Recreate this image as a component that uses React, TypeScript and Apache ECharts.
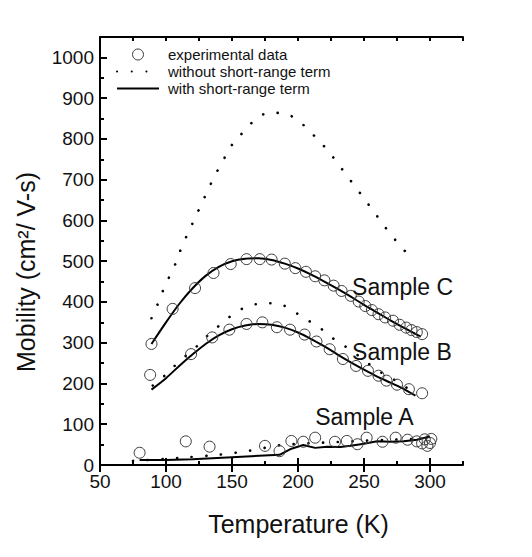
import React, { useEffect, useRef } from "react";
import * as echarts from "echarts";

// Temperature (K) / mobility (cm²/V-s) readings for the three samples
const sampleCExpT = [89, 105, 122, 136, 149, 161, 171, 180, 190, 198, 206, 213, 220, 227, 233, 240, 246, 251, 256, 261, 266, 272, 277, 282, 286, 290, 294];
const sampleCExpMu = [297, 383, 434, 471, 493, 505, 505, 504, 494, 483, 474, 463, 453, 440, 427, 415, 401, 390, 380, 370, 362, 354, 344, 337, 331, 326, 321];
const sampleCWithT = [89, 100, 110, 120, 130, 140, 150, 160, 170, 180, 190, 200, 210, 220, 230, 240, 250, 260, 270, 280, 293];
const sampleCWithMu = [297, 350, 395, 433, 464, 486, 500, 506, 507, 503, 494, 482, 467, 450, 432, 413, 393, 374, 355, 337, 315];
const sampleCWithoutT = [89, 94, 98, 103, 108, 112, 117, 122, 127, 132, 137, 143, 149, 158, 167, 178, 189, 200, 210, 220, 229, 237, 245, 253, 261, 269, 278, 288];
const sampleCWithoutMu = [360, 397, 430, 465, 500, 536, 571, 606, 641, 676, 710, 745, 781, 815, 845, 864, 863, 845, 815, 781, 745, 710, 676, 641, 606, 571, 536, 500];

const sampleBExpT = [88, 119, 135, 148, 161, 173, 184, 194, 205, 214, 224, 234, 244, 253, 261, 267, 275, 284, 294];
const sampleBExpMu = [221, 272, 313, 332, 346, 350, 338, 332, 320, 303, 284, 260, 243, 231, 219, 207, 197, 186, 176];
const sampleBWithT = [89, 100, 110, 120, 130, 140, 150, 160, 170, 180, 190, 200, 210, 220, 230, 240, 250, 260, 270, 280, 289];
const sampleBWithMu = [185, 213, 243, 271, 297, 318, 333, 342, 346, 344, 337, 325, 309, 291, 271, 252, 234, 217, 202, 187, 170];
const sampleBWithoutT = [90, 100, 110, 122, 132, 143, 153, 164, 175, 186, 196, 207, 218, 228, 239, 249, 260, 271, 281, 292];
const sampleBWithoutMu = [195, 222, 254, 287, 319, 349, 375, 391, 397, 395, 378, 356, 333, 307, 284, 260, 233, 213, 192, 176];

const sampleAExpT = [80, 115, 133, 175, 186, 195, 204, 213, 228, 237, 245, 252, 264, 274, 283, 290, 294, 296, 298, 300, 301];
const sampleAExpMu = [30, 58, 45, 47, 34, 59, 57, 67, 57, 59, 51, 67, 57, 67, 62, 58, 53, 63, 47, 54, 64];
const sampleAWithT = [80, 100, 120, 150, 186, 195, 204, 213, 222, 232, 240, 250, 260, 270, 280, 290, 300];
const sampleAWithMu = [12, 12, 14, 19, 25, 40, 49, 42, 45, 44, 47, 52, 58, 57, 58, 62, 70];
const sampleAWithoutT = [75, 100, 125, 145, 165, 185, 200, 220, 240, 260, 280, 300];
const sampleAWithoutMu = [10, 15, 21, 27, 36, 48, 52, 55, 58, 61, 63, 66];

const seriesNames = ["experimental data", "without short-range term", "with short-range term"];
const sampleNames = ["Sample C", "Sample B", "Sample A"];

const xMajorTicks = [50, 100, 150, 200, 250, 300];
const yMajorTicks = [0, 100, 200, 300, 400, 500, 600, 700, 800, 900, 1000];

// where each sample's caption sits, in axis units
const captionAnchors: [number, number][] = [
  [241, 437],
  [241, 278],
  [213, 118],
];

const FONT = "'Liberation Sans', Arial, sans-serif";
const INK = "#111";
const CIRCLE = "#3a3a3a";

const zip = (xs: number[], ys: number[]) => xs.map((x, i) => [x, ys[i]]);

const expSeries = (x: number[], y: number[]) => ({
  name: seriesNames[0],
  type: "scatter",
  data: zip(x, y),
  symbol: "circle",
  symbolSize: 11,
  itemStyle: { color: "rgba(0,0,0,0)", borderColor: CIRCLE, borderWidth: 1, opacity: 1 },
  z: 3,
});

const withoutSeries = (x: number[], y: number[]) => ({
  name: seriesNames[1],
  type: "line",
  data: zip(x, y),
  symbol: "none",
  smooth: 0.35,
  lineStyle: { color: "#000", width: 2.6, type: [0.1, 14.6], cap: "round" },
  itemStyle: { color: "#000" },
  z: 2,
});

const withSeries = (x: number[], y: number[], smooth: number | boolean) => ({
  name: seriesNames[2],
  type: "line",
  data: zip(x, y),
  symbol: "none",
  smooth,
  lineStyle: { color: "#000", width: 2 },
  itemStyle: { color: "#000" },
  z: 2,
});

const axisLine = { show: true, onZero: false, lineStyle: { color: "#000", width: 2 } };
const hiddenLegendMark = { color: "rgba(0,0,0,0)", borderWidth: 0, opacity: 0 };

export default function App() {
  const ref = useRef<HTMLDivElement>(null);

  useEffect(() => {
    if (!ref.current) return;
    const chart = echarts.init(ref.current, undefined, { renderer: "svg" });

    const xBase = {
      type: "value",
      min: 50,
      max: 325,
      splitLine: { show: false },
    };
    const yBase = {
      type: "value",
      min: 0,
      max: 1050,
      splitLine: { show: false },
    };

    chart.setOption({
      animation: false,
      backgroundColor: "#fff",
      textStyle: { fontFamily: FONT },
      grid: { left: 100, right: 69, top: 37, bottom: 92, containLabel: false },
      legend: {
        data: [
          { name: seriesNames[0], itemStyle: { color: "rgba(0,0,0,0)", borderColor: CIRCLE, borderWidth: 1, opacity: 1 } },
          { name: seriesNames[1], itemStyle: hiddenLegendMark },
          { name: seriesNames[2], itemStyle: hiddenLegendMark },
        ],
        orient: "vertical",
        left: 111,
        top: 42,
        itemWidth: 42,
        itemHeight: 11,
        itemGap: 2,
        selectedMode: false,
        textStyle: { fontFamily: FONT, fontSize: 15, color: INK, padding: [0, 0, 0, 4] },
      },
      xAxis: [
        {
          ...xBase,
          position: "bottom",
          interval: 25,
          axisLine,
          axisTick: { inside: true, length: 4, lineStyle: { color: "#000", width: 2 } },
          axisLabel: { show: false },
          name: "Temperature (K)",
          nameLocation: "middle",
          nameGap: 46,
          nameTextStyle: { fontFamily: FONT, fontSize: 25, color: INK, padding: [0, 0, 0, 34] },
        },
        {
          ...xBase,
          position: "bottom",
          axisLine: { show: false },
          axisTick: { inside: true, length: 7, customValues: xMajorTicks, lineStyle: { color: "#000", width: 2 } },
          axisLabel: { customValues: xMajorTicks, fontFamily: FONT, fontSize: 19, color: INK, margin: 7 },
        },
        {
          ...xBase,
          position: "top",
          interval: 25,
          axisLine,
          axisTick: { inside: true, length: 4, lineStyle: { color: "#000", width: 2 } },
          axisLabel: { show: false },
        },
        {
          ...xBase,
          position: "top",
          axisLine: { show: false },
          axisTick: { inside: true, length: 7, customValues: xMajorTicks, lineStyle: { color: "#000", width: 2 } },
          axisLabel: { show: false },
        },
      ],
      yAxis: [
        {
          ...yBase,
          position: "left",
          interval: 50,
          axisLine,
          axisTick: { inside: true, length: 4, lineStyle: { color: "#000", width: 2 } },
          axisLabel: { show: false },
          name: "Mobility (cm²/ V-s)",
          nameLocation: "middle",
          nameGap: 62,
          nameTextStyle: { fontFamily: FONT, fontSize: 25, color: INK, padding: [0, 42, 0, 0] },
        },
        {
          ...yBase,
          position: "left",
          axisLine: { show: false },
          axisTick: { inside: true, length: 7, customValues: yMajorTicks, lineStyle: { color: "#000", width: 2 } },
          axisLabel: {
            customValues: yMajorTicks,
            formatter: (v: number) => String(v),
            fontFamily: FONT,
            fontSize: 19,
            color: INK,
            margin: 6,
          },
        },
      ],
      series: [
        withoutSeries(sampleCWithoutT, sampleCWithoutMu),
        withoutSeries(sampleBWithoutT, sampleBWithoutMu),
        withoutSeries(sampleAWithoutT, sampleAWithoutMu),
        withSeries(sampleCWithT, sampleCWithMu, 0.3),
        withSeries(sampleBWithT, sampleBWithMu, 0.3),
        withSeries(sampleAWithT, sampleAWithMu, false),
        expSeries(sampleCExpT, sampleCExpMu),
        expSeries(sampleBExpT, sampleBExpMu),
        expSeries(sampleAExpT, sampleAExpMu),
        {
          name: "captions",
          type: "scatter",
          symbolSize: 0,
          silent: true,
          itemStyle: { opacity: 1 },
          data: captionAnchors.map((p, i) => ({ value: p, name: sampleNames[i] })),
          label: {
            show: true,
            position: "right",
            distance: 0,
            formatter: (p: any) => p.name,
            fontFamily: FONT,
            fontSize: 23,
            color: INK,
          },
          z: 4,
        },
      ],
    });

    return () => chart.dispose();
  }, []);

  return <div ref={ref} style={{ position: "absolute", left: 0, top: 0, width: 532, height: 557 }} />;
}
